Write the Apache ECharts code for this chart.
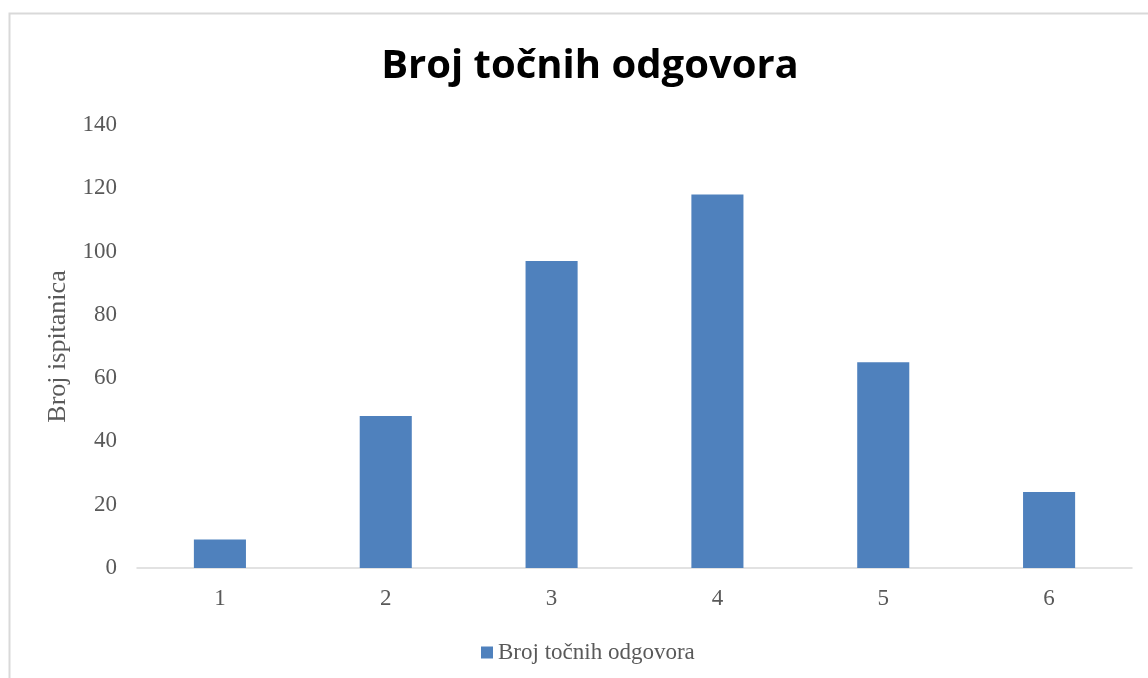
<!DOCTYPE html>
<html>
<head>
<meta charset="utf-8">
<script src="https://cdn.jsdelivr.net/npm/echarts@6/dist/echarts.min.js"></script>
<style>
  html, body { margin: 0; padding: 0; background: #fff; }
  #chart { width: 1148px; height: 678px; }
</style>
</head>
<body>
<div id="chart"></div>
<script>
const categories = ['1', '2', '3', '4', '5', '6']
const answers = [9, 48, 97, 118, 65, 24]
const seriesName = 'Broj točnih odgovora'

const chart = echarts.init(document.getElementById('chart'))

const option = {
  animation: false,
  title: {
    text: 'Broj točnih odgovora',
    left: 585,
    top: 42,
    textAlign: 'center',
    textStyle: {
      fontFamily: 'Open Sans',
      fontWeight: 'bold',
      fontSize: 40,
      color: '#000',
    },
  },
  graphic: [
    {
      type: 'polyline',
      shape: { points: [[9.5, 678], [9.5, 13.5], [1148, 13.5]] },
      style: { stroke: '#d9d9d9', lineWidth: 2, fill: null },
    },
  ],
  legend: {
    left: 476,
    top: 636,
    icon: 'rect',
    itemWidth: 12,
    itemHeight: 12,
    itemGap: 6,
    textStyle: {
      fontFamily: 'Liberation Serif',
      fontSize: 23,
      color: '#595959',
    },
  },
  grid: {
    left: 137,
    right: 16,
    top: 125,
    bottom: 110,
  },
  xAxis: {
    type: 'category',
    data: categories,
    axisLine: { lineStyle: { color: '#d9d9d9', width: 1.5 } },
    axisTick: { show: false },
    axisLabel: {
      margin: 19,
      fontFamily: 'Liberation Serif',
      fontSize: 23,
      color: '#595959',
    },
  },
  yAxis: {
    type: 'value',
    min: 0,
    max: 140,
    interval: 20,
    name: 'Broj ispitanica',
    nameLocation: 'middle',
    nameGap: 64,
    nameTextStyle: {
      fontFamily: 'Liberation Serif',
      fontSize: 26,
      color: '#595959',
    },
    axisLine: { show: false },
    axisTick: { show: false },
    splitLine: { show: false },
    axisLabel: {
      margin: 20,
      fontFamily: 'Liberation Serif',
      fontSize: 23,
      color: '#595959',
    },
  },
  series: [
    {
      name: seriesName,
      type: 'bar',
      data: answers,
      barWidth: '31.4%',
      itemStyle: { color: '#4f81bd' },
    },
  ],
}

chart.setOption(option)
</script>
</body>
</html>
